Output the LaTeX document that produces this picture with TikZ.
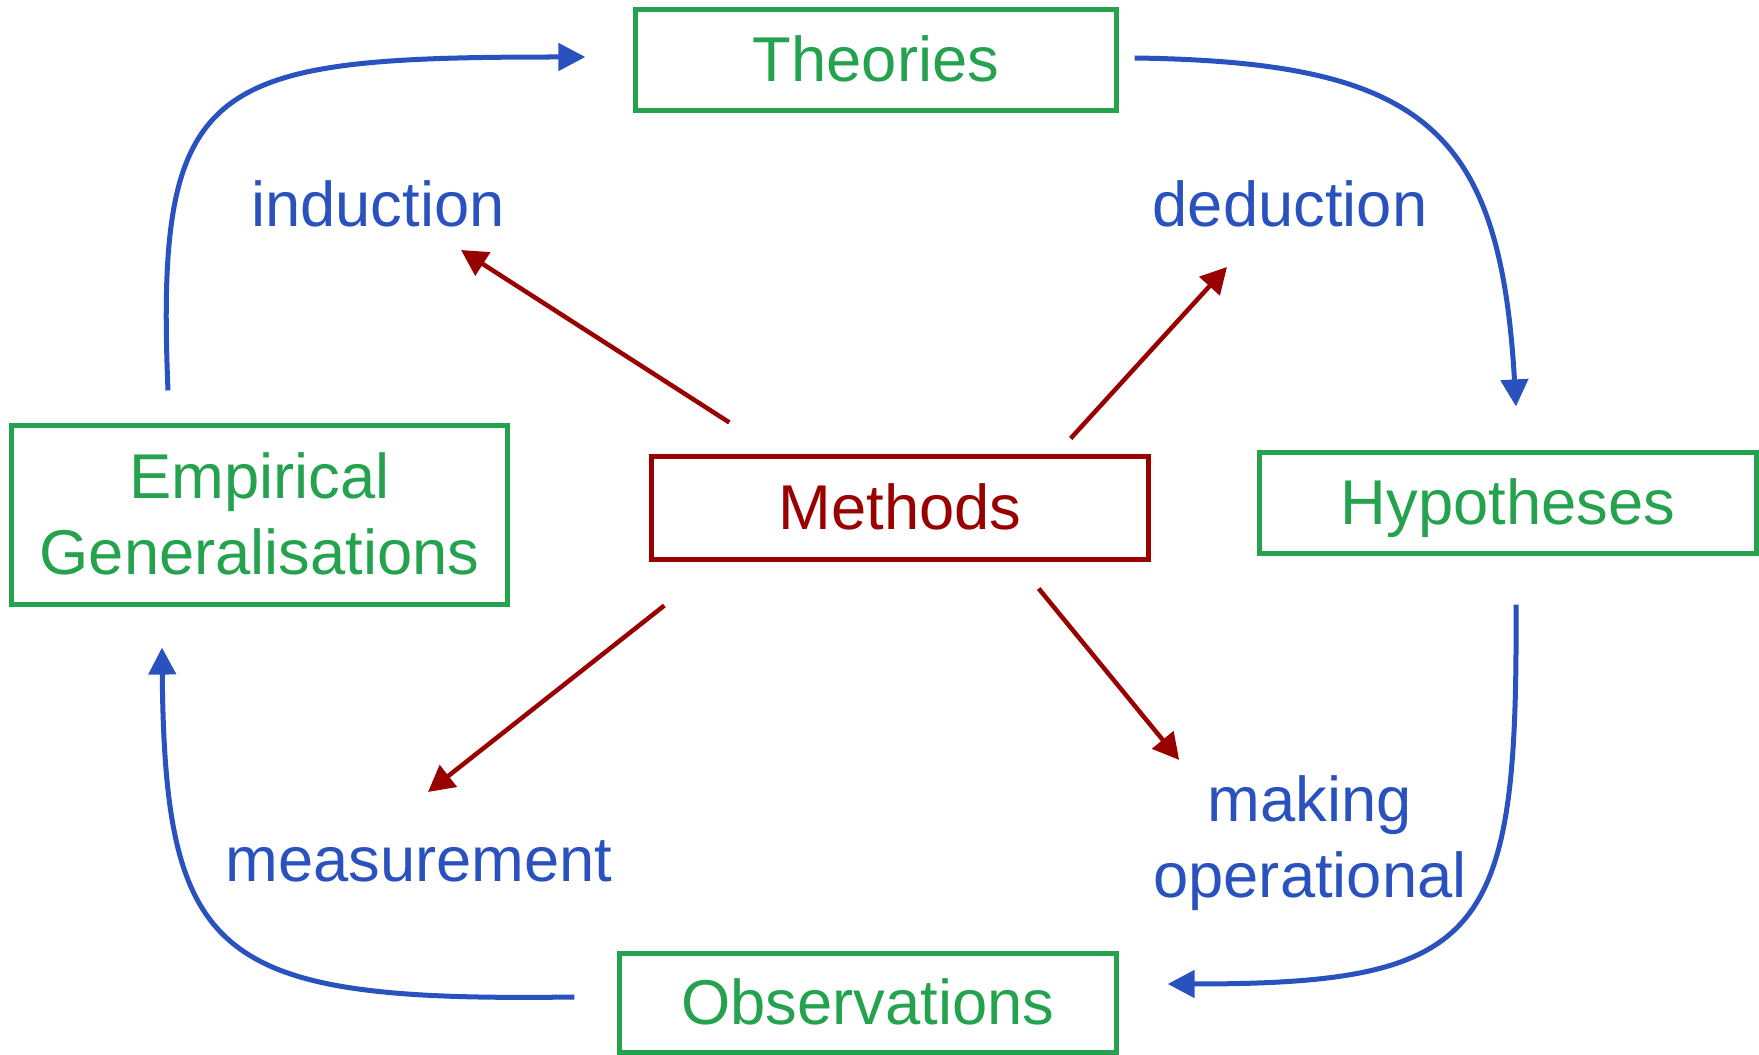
\documentclass[tikz,border=0pt]{standalone}
\usepackage{fontspec}
\setmainfont{Liberation Sans}
\usetikzlibrary{arrows.meta, positioning}
\definecolor{stagegreen}{RGB}{36,162,78}
\definecolor{flowblue}{RGB}{42,82,190}
\definecolor{methodred}{RGB}{153,0,0}
\newcommand{\linestrut}{\rule[-0.212em]{0pt}{1.117em}}

\begin{document}
\begin{tikzpicture}[
        x=0.01cm, y=-0.01cm,
        font=\fontsize{18pt}{21.6pt}\selectfont,
        stage/.style={rectangle, draw=stagegreen, line width=0.05cm, text=stagegreen,
          inner sep=0pt, minimum width=4.96cm, minimum height=1.01cm, align=center},
        method/.style={stage, draw=methodred, text=methodred},
        phase label/.style={text=flowblue, inner sep=0pt, align=center},
        flow arrow/.style={draw=flowblue, line width=0.05cm, -{Triangle[length=0.27cm, width=0.27cm]}},
        method arrow/.style={draw=methodred, line width=0.045cm, -{Triangle[length=0.26cm, width=0.27cm]}}
      ]
      \useasboundingbox (0,0) rectangle (1759,1055);

      % Stages
      \node[stage, minimum width=4.80cm] (theo) at (876,60) {\linestrut Theories};
      \node[stage, minimum height=1.79cm] (emp) at (259.5,515) {\linestrut Empirical\\\linestrut Generalisations};
      \node[method, minimum height=1.02cm] (meth) at (900,508) {\linestrut Methods};
      \node[stage] (hyp) at (1508,503) {\linestrut Hypotheses};
      \node[stage, minimum height=0.98cm] (obs) at (868,1003) {\linestrut Observations};

      % Labels
      \node[phase label, anchor=base] (ind) at (378,227) {induction};
      \node[phase label, anchor=base] (ded) at (1290,227) {deduction};
      \node[phase label, anchor=base] (meas) at (419,882) {measurement};
      \node[phase label] (oper) at (1310,838) {\linestrut making\\\linestrut operational};

      % Cycle
      \draw[flow arrow] ([shift={(-91.5,-32.5)}]emp.north) .. controls +(-13,-313) and +(-378,0) .. ([shift={(-48,-3)}]theo.west);
      \draw[flow arrow] ([shift={(16,-2)}]theo.east) .. controls +(288,4) and +(-16,-279) .. ([shift={(8,-43.5)}]hyp.north);
      \draw[flow arrow] ([shift={(8,48.5)}]hyp.south) .. controls +(2,332) and +(318,0) .. ([shift={(49,-19)}]obs.east);
      \draw[flow arrow] ([shift={(-43,-6)}]obs.west) .. controls +(-357,5) and +(3,315) .. ([shift={(-97.5,40.5)}]emp.south);

      % Methods
      \draw[method arrow] ([shift={(80,-32)}]meth.north west) -- ([shift={(83,23)}]ind.base);
      \draw[method arrow] ([shift={(-80,-16)}]meth.north east) -- ([shift={(-63,40)}]ded.base);
      \draw[method arrow] ([shift={(15,44)}]meth.south west) -- ([shift={(9,-90)}]meas.base);
      \draw[method arrow] ([shift={(-112,27)}]meth.south east) -- ([shift={(26.5,-4)}]oper.north west);
    \end{tikzpicture}
\end{document}
